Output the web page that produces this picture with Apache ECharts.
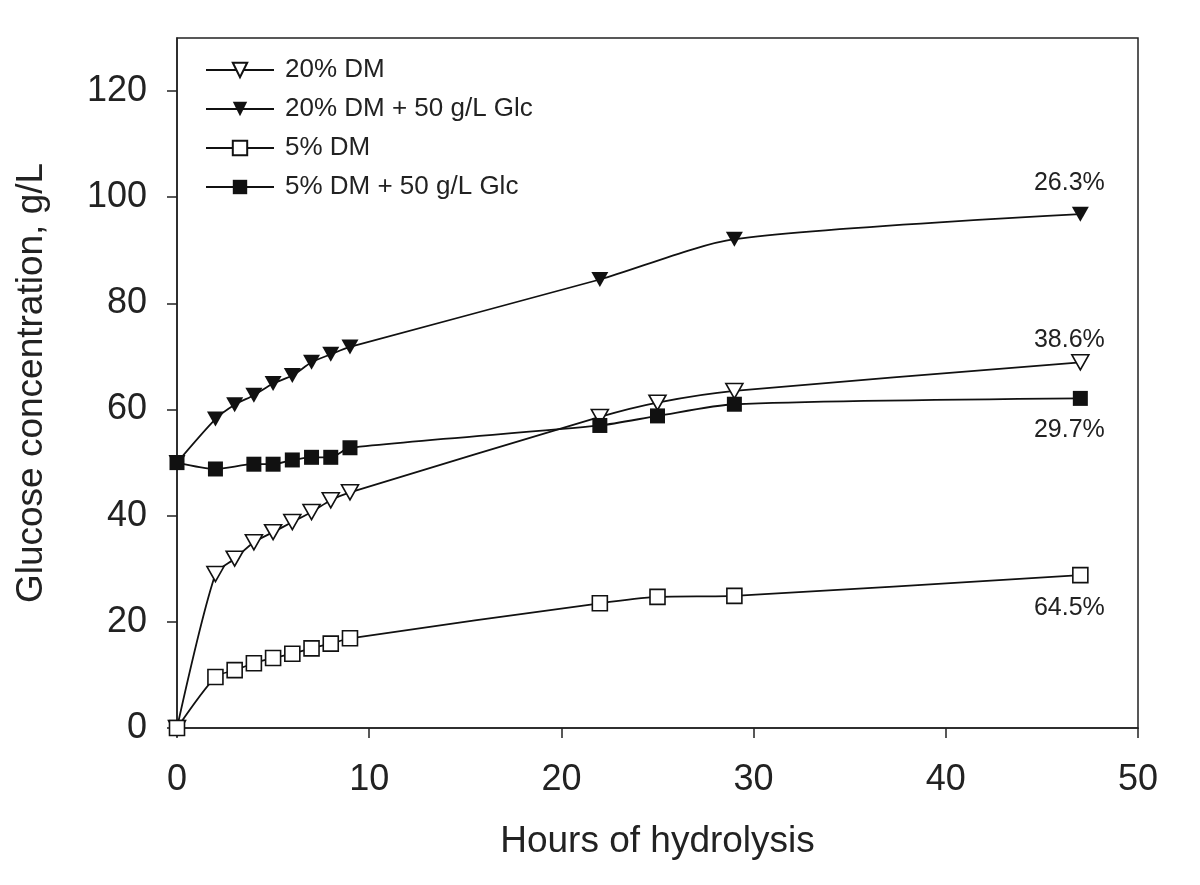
<!DOCTYPE html>
<html>
<head>
<meta charset="utf-8">
<script src="https://cdn.jsdelivr.net/npm/echarts@6/dist/echarts.min.js"></script>
<style>
  html, body { margin: 0; padding: 0; background: #fff; }
  #chart { width: 1200px; height: 885px; }
</style>
</head>
<body>
<div id="chart"></div>
<script>
// hours of hydrolysis for each series
const hoursDM20 = [0, 2, 3, 4, 5, 6, 7, 8, 9, 22, 25, 29, 47];
const hoursDM20Glc = [0, 2, 3, 4, 5, 6, 7, 8, 9, 22, 29, 47];
const hoursDM5 = [0, 2, 3, 4, 5, 6, 7, 8, 9, 22, 25, 29, 47];
const hoursDM5Glc = [0, 2, 4, 5, 6, 7, 8, 9, 22, 25, 29, 47];

// glucose concentration, g/L
const glcDM20 = [0, 29, 31.9, 35, 36.9, 38.8, 40.7, 42.9, 44.4, 58.6, 61.3, 63.5, 68.9];
const glcDM20Glc = [50, 58.2, 60.9, 62.7, 64.9, 66.4, 68.9, 70.4, 71.8, 84.5, 92.1, 96.8];
const glcDM5 = [0, 9.6, 10.9, 12.2, 13.2, 14, 15, 15.9, 16.9, 23.5, 24.7, 24.9, 28.8];
const glcDM5Glc = [50, 48.8, 49.7, 49.7, 50.5, 51, 51, 52.8, 57, 58.8, 61, 62.1];

const seriesNames = ["20% DM", "20% DM + 50 g/L Glc", "5% DM", "5% DM + 50 g/L Glc"];
// conversion yields written next to the last point
const endLabels = ["38.6%", "26.3%", "64.5%", "29.7%"];
const endLabelPos = ["top", "top", "bottom", "bottom"];
const endLabelGap = [1, 11, 12, 12];

const yTicks = [0, 20, 40, 60, 80, 100, 120];

const triDown = "path://M0,0 L10,0 L5,9 Z";
const fontFamily = "Liberation Sans, Arial, Helvetica, sans-serif";

function pairs(xs, ys) {
  return xs.map((x, i) => [x, ys[i]]);
}

function makeSeries(idx, xs, ys, symbol, filled) {
  const data = pairs(xs, ys);
  const last = data.length - 1;
  data[last] = {
    value: data[last],
    label: {
      show: true,
      formatter: endLabels[idx],
      position: endLabelPos[idx],
      distance: endLabelGap[idx],
      offset: [-11, 0],
      fontSize: 25,
      color: "#222",
      fontFamily: fontFamily,
    },
  };
  return {
    name: seriesNames[idx],
    type: "line",
    smooth: 0.25,
    data: data,
    symbol: symbol,
    symbolSize: symbol === triDown ? [17, 15] : 15,
    showAllSymbol: true,
    z: filled ? 3 : 2,
    lineStyle: { color: "#111", width: 1.8 },
    itemStyle: {
      color: filled ? "#111" : "#fff",
      borderColor: "#111",
      borderWidth: filled ? 0 : 1.6,
    },
    emphasis: { disabled: true },
  };
}

const chart = echarts.init(document.getElementById("chart"));
chart.setOption({
  backgroundColor: "#fff",
  animation: false,
  textStyle: { fontFamily: fontFamily, color: "#222" },
  grid: {
    left: 177, right: 62, top: 38, bottom: 157,
    show: true, borderColor: "#222", borderWidth: 1.5,
  },
  legend: {
    orient: "vertical",
    left: 200,
    top: 52,
    itemWidth: 68,
    itemHeight: 18,
    itemGap: 13,
    textStyle: { fontSize: 26, color: "#222", padding: [0, 0, 0, 6] },
    data: seriesNames,
  },
  xAxis: {
    type: "value",
    min: 0, max: 50, interval: 10,
    name: "Hours of hydrolysis",
    nameLocation: "middle",
    nameGap: 95,
    nameTextStyle: { fontSize: 37, color: "#222" },
    axisLine: { show: true, onZero: false, lineStyle: { color: "#222", width: 1.5 } },
    axisTick: { show: true, inside: false, length: 10, lineStyle: { color: "#222", width: 1.5 } },
    axisLabel: { fontSize: 36, color: "#222", margin: 34 },
    splitLine: { show: false },
  },
  yAxis: {
    type: "value",
    min: 0, max: 130,
    name: "Glucose concentration, g/L",
    nameLocation: "middle",
    nameGap: 127,
    nameTextStyle: { fontSize: 37, color: "#222" },
    axisLine: { show: true, onZero: false, lineStyle: { color: "#222", width: 1.5 } },
    axisTick: {
      show: true, inside: false, length: 10,
      customValues: yTicks,
      lineStyle: { color: "#222", width: 1.5 },
    },
    axisLabel: { fontSize: 36, color: "#222", margin: 30, customValues: yTicks },
    splitLine: { show: false },
  },
  series: [
    makeSeries(0, hoursDM20, glcDM20, triDown, false),
    makeSeries(1, hoursDM20Glc, glcDM20Glc, triDown, true),
    makeSeries(2, hoursDM5, glcDM5, "rect", false),
    makeSeries(3, hoursDM5Glc, glcDM5Glc, "rect", true),
  ],
});
</script>
</body>
</html>
